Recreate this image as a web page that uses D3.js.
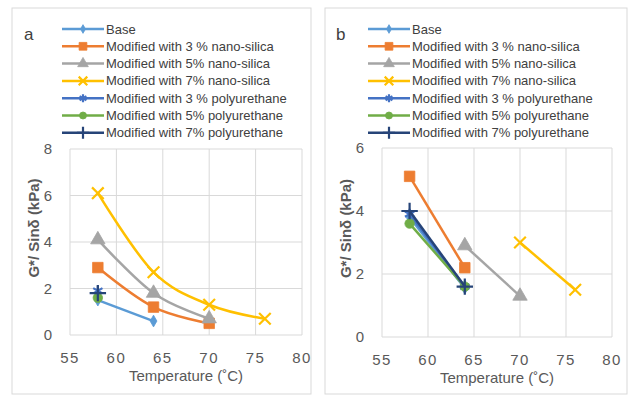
<!DOCTYPE html>
<html>
<head>
<meta charset="utf-8">
<script src="https://cdn.jsdelivr.net/npm/d3@7"></script>
<style>
  html, body { margin: 0; padding: 0; background: #fff; }
  svg { display: block; font-family: "Liberation Sans", Arial, sans-serif; }
</style>
</head>
<body>
<svg id="chart" width="631" height="398"></svg>
<script>
// temperatures (°C) shared by both panels
const temps = [58, 64, 70, 76];

const seriesNames = [
  "Base",
  "Modified with 3 % nano-silica",
  "Modified with 5% nano-silica",
  "Modified with 7% nano-silica",
  "Modified with 3 % polyurethane",
  "Modified with 5% polyurethane",
  "Modified with 7% polyurethane"
];
const seriesColors = ["#5B9BD5", "#ED7D31", "#A5A5A5", "#FFC000", "#4472C4", "#70AD47", "#264478"];

// panel a: G*/sinδ (kPa), null = not measured
const aBase = [1.5, 0.6, null, null];
const a3NS = [2.9, 1.2, 0.5, null];
const a5NS = [4.1, 1.8, 0.7, null];
const a7NS = [6.1, 2.7, 1.3, 0.7];
const a3PU = [1.9, null, null, null];
const a5PU = [1.6, null, null, null];
const a7PU = [1.8, null, null, null];

// panel b
const bBase = [3.8, 1.55, null, null];
const b3NS = [5.1, 2.2, null, null];
const b5NS = [null, 2.9, 1.3, null];
const b7NS = [null, null, 3.0, 1.5];
const b3PU = [3.9, 1.6, null, null];
const b5PU = [3.6, 1.6, null, null];
const b7PU = [4.0, 1.6, null, null];

const xTicks = [55, 60, 65, 70, 75, 80];
const aYTicks = [0, 2, 4, 6, 8];
const bYTicks = [0, 2, 4, 6];

const svg = d3.select("#chart");

// marker shapes, Excel default order
const markers = [
  { type: d3.symbolDiamond, size: 40, fill: true },
  { type: d3.symbolSquare, size: 110, fill: true },
  { type: d3.symbolTriangle, size: 90, fill: true },
  { type: d3.symbolX, size: 90, fill: false },
  { type: d3.symbolAsterisk, size: 80, fill: false },
  { type: d3.symbolCircle, size: 70, fill: true },
  { type: d3.symbolPlus, size: 90, fill: false }
];

const drawMarker = (g, i, x, y, scale = 1) => {
  const m = markers[i];
  g.append("path")
    .attr("transform", `translate(${x},${y})`)
    .attr("d", d3.symbol(m.type, m.size * scale)())
    .attr("fill", m.fill ? seriesColors[i] : "none")
    .attr("stroke", seriesColors[i])
    .attr("stroke-width", m.fill ? 0.8 : 2.2);
};

const drawPanel = (opt) => {
  const g = svg.append("g");

  // panel frame
  g.append("rect")
    .attr("x", opt.frame[0]).attr("y", opt.frame[1])
    .attr("width", opt.frame[2]).attr("height", opt.frame[3])
    .attr("fill", "#fff").attr("stroke", "#D9D9D9").attr("stroke-width", 1);

  const x = d3.scaleLinear().domain([55, 80]).range([opt.left, opt.right]);
  const y = d3.scaleLinear().domain([0, opt.yMax]).range([opt.bottom, opt.top]);

  // gridlines
  g.append("g").selectAll("line").data(opt.yTicks).join("line")
    .attr("x1", opt.left).attr("x2", opt.right)
    .attr("y1", d => y(d)).attr("y2", d => y(d))
    .attr("stroke", "#D9D9D9").attr("stroke-width", 1);
  g.append("g").selectAll("line").data(xTicks).join("line")
    .attr("y1", opt.top).attr("y2", opt.bottom)
    .attr("x1", d => x(d)).attr("x2", d => x(d))
    .attr("stroke", "#D9D9D9").attr("stroke-width", 1);

  // tick labels
  g.append("g").selectAll("text").data(xTicks).join("text")
    .attr("x", d => x(d)).attr("y", opt.bottom + 28)
    .attr("text-anchor", "middle")
    .attr("font-size", 15).attr("letter-spacing", 1.5)
    .attr("fill", "#595959")
    .text(d => d);
  g.append("g").selectAll("text").data(opt.yTicks).join("text")
    .attr("x", opt.left - 18).attr("y", d => y(d) + 5)
    .attr("text-anchor", "end")
    .attr("font-size", 15)
    .attr("fill", "#595959")
    .text(d => d);

  // axis titles
  g.append("text")
    .attr("x", (opt.left + opt.right) / 2).attr("y", opt.bottom + 46)
    .attr("text-anchor", "middle")
    .attr("font-size", 15)
    .attr("fill", "#595959")
    .text("Temperature (˚C)");
  g.append("text")
    .attr("transform", `translate(${opt.left - 31},${(opt.top + opt.bottom) / 2 - 14}) rotate(-90)`)
    .attr("text-anchor", "middle")
    .attr("font-size", 15).attr("font-weight", "bold")
    .attr("fill", "#595959")
    .text("G*/ Sinδ (kPa)");

  // series
  const line = d3.line()
    .defined(d => d[1] != null)
    .x(d => x(d[0])).y(d => y(d[1]))
    .curve(opt.smooth ? d3.curveCatmullRom.alpha(0) : d3.curveLinear);

  opt.series.forEach((vals, i) => {
    const pts = temps.map((t, j) => [t, vals[j]]).filter(d => d[1] != null);
    g.append("path")
      .datum(pts)
      .attr("d", line)
      .attr("fill", "none")
      .attr("stroke", seriesColors[i])
      .attr("stroke-width", 2.5);
    pts.forEach(p => drawMarker(g, i, x(p[0]), y(p[1])));
  });

  // panel letter
  g.append("text")
    .attr("x", opt.letter[0]).attr("y", opt.letter[1])
    .attr("font-size", 17).attr("fill", "#404040")
    .text(opt.label);

  // legend
  const lg = g.append("g");
  seriesNames.forEach((name, i) => {
    const ly = 29 + i * 17.3;
    lg.append("line")
      .attr("x1", opt.legendX).attr("x2", opt.legendX + 42)
      .attr("y1", ly).attr("y2", ly)
      .attr("stroke", seriesColors[i]).attr("stroke-width", 2.5);
    drawMarker(lg, i, opt.legendX + 21, ly, 0.55);
    lg.append("text")
      .attr("x", opt.legendX + 44).attr("y", ly + 4.5)
      .attr("font-size", 13)
      .attr("fill", "#404040")
      .text(name);
  });
};

drawPanel({
  label: "a", letter: [24, 40],
  frame: [12, 8, 299, 386],
  left: 70, right: 302, top: 149, bottom: 335,
  yMax: 8, yTicks: aYTicks, smooth: true,
  legendX: 62,
  series: [aBase, a3NS, a5NS, a7NS, a3PU, a5PU, a7PU]
});

drawPanel({
  label: "b", letter: [336, 40],
  frame: [325, 8, 302, 386],
  left: 382, right: 612, top: 148, bottom: 337,
  yMax: 6, yTicks: bYTicks, smooth: false,
  legendX: 368,
  series: [bBase, b3NS, b5NS, b7NS, b3PU, b5PU, b7PU]
});
</script>
</body>
</html>
